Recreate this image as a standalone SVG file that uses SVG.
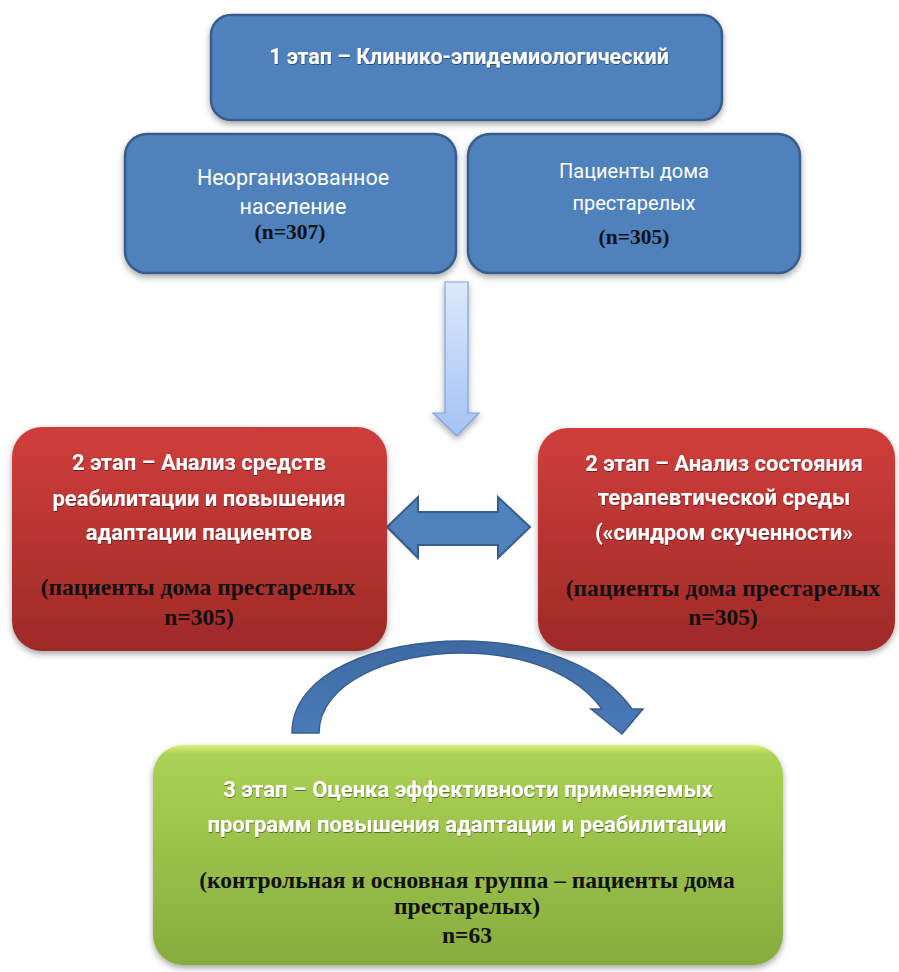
<svg xmlns="http://www.w3.org/2000/svg" width="899" height="972" viewBox="0 0 899 972">
<defs>
<linearGradient id="gRed" x1="0" y1="0" x2="0" y2="1">
<stop offset="0" stop-color="#D03E3B"/>
<stop offset="1" stop-color="#9E2A28"/>
</linearGradient>
<linearGradient id="gGreen" x1="0" y1="0" x2="0" y2="1">
<stop offset="0" stop-color="#D8F27E"/>
<stop offset="0.04" stop-color="#ABD255"/>
<stop offset="1" stop-color="#87AC3E"/>
</linearGradient>
<linearGradient id="gDown" x1="0" y1="0" x2="0" y2="1">
<stop offset="0" stop-color="#DDE9FB"/>
<stop offset="1" stop-color="#A3C2F4"/>
</linearGradient>
<linearGradient id="gCurve" x1="0" y1="0" x2="0" y2="1">
<stop offset="0" stop-color="#3E6AA4"/>
<stop offset="1" stop-color="#4A7BB8"/>
</linearGradient>
<filter id="sh" x="-10%" y="-10%" width="120%" height="125%">
<feDropShadow dx="0" dy="3" stdDeviation="3" flood-color="#000" flood-opacity="0.35"/>
</filter>
<filter id="tsh" x="-5%" y="-20%" width="110%" height="150%">
<feDropShadow dx="0.5" dy="1" stdDeviation="0.6" flood-color="#000" flood-opacity="0.45"/>
</filter>
</defs>
<style>
.blue{fill:#4F81BD;stroke:#385D8A;stroke-width:2.5}
.red{fill:url(#gRed);stroke:none}
.green{fill:url(#gGreen);stroke:none}
.wt{font-family:Roboto,"Open Sans",sans-serif;font-weight:bold;fill:#FFFFFF;text-anchor:middle}
.wr{font-family:Roboto,"Open Sans",sans-serif;font-weight:normal;fill:#FFFFFF;text-anchor:middle}
.bt{font-family:"Liberation Serif","Times New Roman",serif;font-weight:bold;fill:#111111;text-anchor:middle}
</style>
<rect width="899" height="972" fill="#FFFFFF"/>

<g id="connectors">
<path id="down-arrow" d="M445,282 L468,282 L468,413 L479,413 L457,436 L433,413 L445,413 Z" fill="url(#gDown)" stroke="#7FA3D8" stroke-width="1.2" filter="url(#sh)"/>
<path id="double-arrow" d="M387,527 L418,497 L418,512 L498,512 L498,497 L530,527 L498,558 L498,545 L418,545 L418,558 Z" fill="#4F81BD" stroke="#385D8A" stroke-width="2"/>
<path id="curved-arrow" d="M292,733 C292,672 378,641 462,641 C540,641 604,668 632,709 L643,709 L622,734 L591,709 L602,709 C578,676 528,653 462,653 C392,653 319,682 319,733 Z" fill="url(#gCurve)" stroke="#385D8A" stroke-width="1.5"/>
</g>

<g id="stage1">
<rect x="211" y="15" width="511" height="105" rx="20" class="blue" filter="url(#sh)"/>
<text class="wt" x="469" y="64" font-size="21.5" filter="url(#tsh)">1 этап – Клинико-эпидемиологический</text>
</g>

<g id="unorganized">
<rect x="125" y="134" width="331" height="139" rx="22" class="blue" filter="url(#sh)"/>
<text class="wr" x="293" y="185" font-size="21.5">Неорганизованное</text>
<text class="wr" x="293" y="214" font-size="21.5">население</text>
<text class="bt" x="290" y="239" font-size="21.5">(n=307)</text>
</g>

<g id="nursing">
<rect x="468" y="134" width="332" height="139" rx="22" class="blue" filter="url(#sh)"/>
<text class="wr" x="634" y="178" font-size="20">Пациенты дома</text>
<text class="wr" x="634" y="210" font-size="20">престарелых</text>
<text class="bt" x="634" y="244" font-size="21.5">(n=305)</text>
</g>

<g id="stage2-left">
<rect x="12" y="427" width="375" height="224" rx="30" class="red" filter="url(#sh)"/>
<text class="wt" x="199" y="470" font-size="22" filter="url(#tsh)">2 этап – Анализ средств</text>
<text class="wt" x="199" y="506" font-size="22" filter="url(#tsh)">реабилитации и повышения</text>
<text class="wt" x="199" y="540" font-size="22" filter="url(#tsh)">адаптации пациентов</text>
<text class="bt" x="198" y="595" font-size="23.5">(пациенты дома престарелых</text>
<text class="bt" x="199" y="625" font-size="23.5">n=305)</text>
</g>

<g id="stage2-right">
<rect x="538" y="428" width="357" height="223" rx="30" class="red" filter="url(#sh)"/>
<text class="wt" x="724" y="471" font-size="22" filter="url(#tsh)">2 этап – Анализ состояния</text>
<text class="wt" x="724" y="505" font-size="22" filter="url(#tsh)">терапевтической среды</text>
<text class="wt" x="724" y="540" font-size="22" filter="url(#tsh)">(«синдром скученности»</text>
<text class="bt" x="723" y="596" font-size="23.5">(пациенты дома престарелых</text>
<text class="bt" x="723" y="625" font-size="23.5">n=305)</text>
</g>

<g id="stage3">
<rect x="153" y="745" width="630" height="220" rx="30" class="green" filter="url(#sh)"/>
<text class="wt" x="468" y="797" font-size="22" filter="url(#tsh)">3 этап – Оценка эффективности применяемых</text>
<text class="wt" x="467" y="832" font-size="22" filter="url(#tsh)">программ повышения адаптации и реабилитации</text>
<text class="bt" x="467" y="888" font-size="23.5">(контрольная и основная группа – пациенты дома</text>
<text class="bt" x="467" y="914" font-size="23.5">престарелых)</text>
<text class="bt" x="467" y="943" font-size="23.5">n=63</text>
</g>
</svg>
